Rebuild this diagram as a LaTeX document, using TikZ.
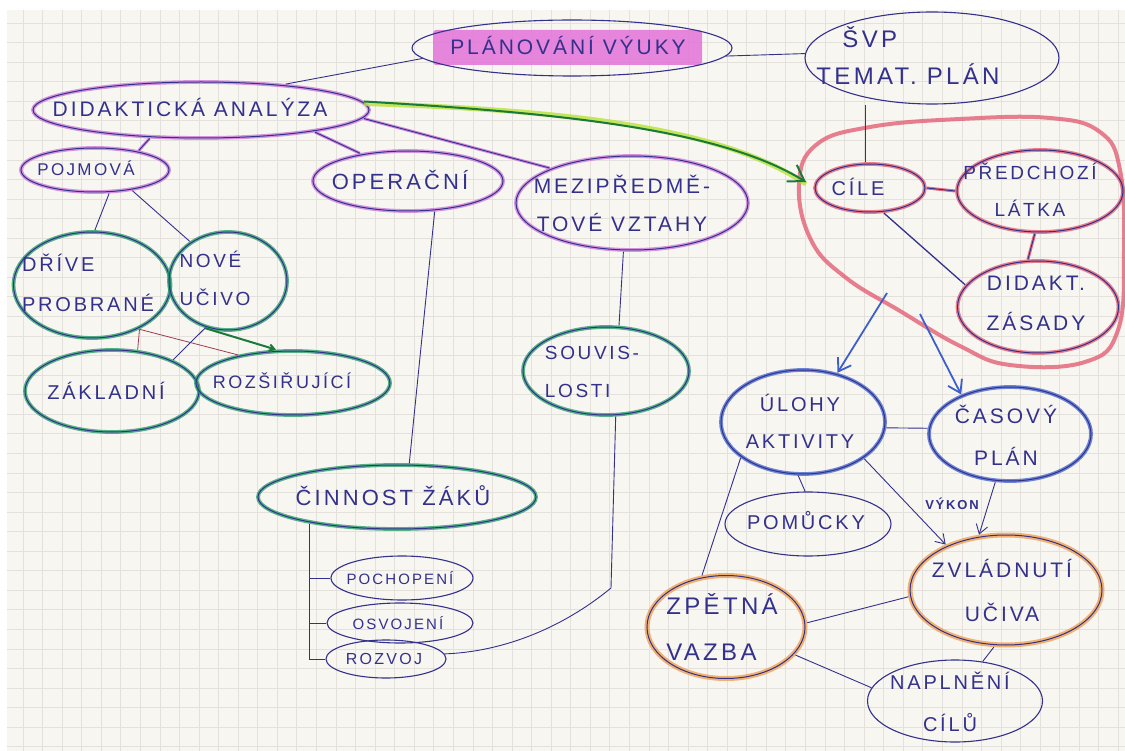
\documentclass[tikz,border=0pt]{standalone}
\usepackage{fontspec}
\newfontfamily\hand[LetterSpace=14]{Liberation Sans}
\usetikzlibrary{shapes.geometric,arrows.meta}
\definecolor{ink}{HTML}{33318C}
\definecolor{paper}{HTML}{F8F6F1}
\definecolor{gridc}{HTML}{E4E1DC}
\definecolor{purp}{HTML}{C874D8}
\definecolor{hilite}{HTML}{E272D8}
\definecolor{grn}{HTML}{1F9965}
\definecolor{dkgrn}{HTML}{1A7A3A}
\definecolor{ylgrn}{HTML}{B8E23A}
\definecolor{redc}{HTML}{E2566E}
\definecolor{bluc}{HTML}{3D5FCC}
\definecolor{orgc}{HTML}{EE9A48}
\begin{document}
\begin{tikzpicture}[x=1pt,y=-1pt,
  plain/.style={ellipse, draw=ink, line width=1.1pt, inner sep=0pt},
  hibub/.style={ellipse, draw=#1, line width=3.8pt, draw opacity=0.75, inner sep=0pt,
    postaction={draw=ink, line width=1pt, draw opacity=1}},
  txt/.style 2 args={text=ink, inner sep=0pt, align=center,
    font=\hand\fontsize{#1}{#2}\selectfont},
  con/.style={draw=ink, line width=0.9pt},
  pcon/.style={draw=purp, line width=3pt, draw opacity=0.85,
    postaction={draw=ink, line width=0.9pt, draw opacity=1}},
  rcon/.style={draw=redc!70!black, line width=0.8pt},
  rthick/.style={draw=redc, line width=3pt, draw opacity=0.85,
    postaction={draw=ink, line width=0.9pt, draw opacity=1}},
  barb/.style={-{Straight Barb[length=#1, width=1.3*#1]}},
  barrow/.style={draw=bluc, line width=1.8pt, barb=12pt},
  narrow/.style={con, barb=9pt}]
\useasboundingbox (0,0) rectangle (1125,751);
% sheet of squared paper
\fill[white] (0,0) rectangle (1125,751);
\fill[paper] (7,10) rectangle (1125,751);
\foreach \i in {0,...,56} \draw[gridc, line width=0.7pt] ({23+19.56*\i},10) -- ({23+19.56*\i},751);
\foreach \j in {0,...,37} \draw[gridc, line width=0.7pt] (7,{23+19.56*\j}) -- (1125,{23+19.56*\j});

% highlighter stroke behind the title
\fill[hilite, opacity=0.85, rounded corners=3pt] (433,30) rectangle (702,65);

% red loop around the goal cluster
\draw[redc, line width=4pt, opacity=0.75] plot[smooth cycle, tension=0.7] coordinates
  {(799,185) (816,145) (870,127) (960,119) (1050,118) (1100,132) (1120,170) (1124,250)
   (1118,330) (1085,362) (1010,365) (960,346) (900,311) (845,277) (811,240)};
\coordinate (b1) at (887,293);
\coordinate (b2) at (920,314);
\coordinate (gtip) at (806,182);
\coordinate (bend) at (611,588);

% bubbles
\node[plain, minimum width=320, minimum height=56] (plan) at (572,48) {};
\node[plain, minimum width=254, minimum height=92] (svp) at (932,58) {};
\node[hibub=purp, minimum width=336, minimum height=56] (didak) at (201,110) {};
\node[hibub=purp, minimum width=148, minimum height=44] (pojm) at (95,170) {};
\node[hibub=purp, minimum width=190, minimum height=60] (oper) at (408,181) {};
\node[hibub=purp, minimum width=232, minimum height=94] (mezi) at (632,203) {};
\node[hibub=redc, minimum width=110, minimum height=48] (cile) at (870,188) {};
\node[hibub=redc, minimum width=166, minimum height=82] (pred) at (1040,191) {};
\node[hibub=redc, minimum width=161, minimum height=92] (zas) at (1038,307) {};
\node[hibub=grn, minimum width=157, minimum height=106] (drive) at (92,285) {};
\node[hibub=grn, minimum width=118, minimum height=98] (nove) at (228,281) {};
\node[hibub=grn, minimum width=174, minimum height=82] (zakl) at (112,391) {};
\node[hibub=grn, minimum width=194, minimum height=64] (rozs) at (293,383) {};
\node[hibub=grn, minimum width=166, minimum height=88] (souv) at (606,371) {};
\node[hibub=bluc, minimum width=164, minimum height=104] (ulohy) at (803,422) {};
\node[hibub=bluc, minimum width=162, minimum height=94] (casov) at (1010,434) {};
\node[hibub=grn, minimum width=278, minimum height=64] (cinn) at (397,497) {};
\node[plain, minimum width=166, minimum height=64] (pomu) at (808,524) {};
\node[hibub=orgc, line width=5pt, minimum width=192, minimum height=110] (zvl) at (1006,590) {};
\node[hibub=orgc, line width=5pt, minimum width=158, minimum height=103] (zpet) at (726,627) {};
\node[plain, minimum width=175, minimum height=82] (napl) at (955,701) {};
\node[plain, minimum width=142, minimum height=44] (poch) at (402,578) {};
\node[plain, minimum width=146, minimum height=40] (osvo) at (400,623) {};
\node[plain, minimum width=120, minimum height=38] (rozv) at (386,659) {};

% connectors
\draw[con] (plan.184) -- (didak.17);
\draw[con] (plan.357) -- (svp.178);
\draw[con] (cile.100) -- (cile.100 |- svp.south);
\draw[pcon] (didak.209) -- (pojm.24);
\draw[pcon] (didak.349) -- (oper.150);
\draw[pcon] (didak.357) -- (mezi.157);
\draw[ylgrn, line width=5pt, opacity=0.8] ([yshift=-2pt]didak.3) .. controls (560,110) and (720,126) .. ([yshift=-2pt]gtip);
\draw[dkgrn, line width=2pt, barb=15pt] (didak.3) .. controls (560,113) and (720,129) .. (gtip);
\draw[con] (pojm.301) -- (drive.87);
\draw[con] (pojm.331) -- (nove.134);
\draw[rcon] (drive.317) -- (zakl.58);
\draw[rcon] (drive.317) -- (rozs.153);
\draw[con] (nove.244) -- (zakl.27);
\draw[dkgrn, line width=2pt, barb=5pt] (nove.244) -- (rozs.117);
\draw[con] (oper.311) -- (cinn.70);
\draw[con] (mezi.260) -- (souv.74);
\draw[con] (souv.282) -- (bend) .. controls (560,630) and (500,652) .. (rozv.5);
\draw[con] (cinn.197) |- (rozv.west);
\draw[con] (poch.west) -- (poch.west -| cinn.197);
\draw[con] (osvo.west) -- (osvo.west -| cinn.197);
\draw[rthick] (cile.east) -- (pred.west);
\draw[con, line width=1.3pt] (cile.299) -- (zas.163);
\draw[rthick] (pred.263) -- (zas.102);
\draw[barrow] (b1) -- (ulohy.55);
\draw[barrow] (b2) -- (casov.141);
\draw[con] (ulohy.356) -- (casov.176);
\draw[con] (ulohy.265) -- (pomu.95);
\draw[narrow] (ulohy.329) -- (zvl.143);
\draw[narrow] (casov.253) -- (zvl.116);
\draw[con] (ulohy.210) -- (zpet.115);
\draw[con] (zpet.3) -- (zvl.184);
\draw[con] (zpet.338) -- (napl.171);
\draw[con] (zvl.258) -- (napl.55);

% lettering
\node[txt={21}{34}] (plan-t) at (568,46) {PLÁNOVÁNÍ VÝUKY};
\node[txt={24}{37}, align=left] (svp-t) at (908,56) {\hspace*{26pt}ŠVP\\TEMAT. PLÁN};
\node[txt={21}{34}] (didak-t) at (190,108) {DIDAKTICKÁ ANALÝZA};
\node[txt={17}{30}] (pojm-t) at (86,168) {POJMOVÁ};
\node[txt={22}{34}] (oper-t) at (400,180) {OPERAČNÍ};
\node[txt={21}{38}] (mezi-t) at (622,203) {MEZIPŘEDMĚ-\\TOVÉ VZTAHY};
\node[txt={20}{32}] (cile-t) at (858,187) {CÍLE};
\node[txt={19}{37}] (pred-t) at (1030,190) {PŘEDCHOZÍ\\LÁTKA};
\node[txt={21}{40}] (zas-t) at (1036,303) {DIDAKT.\\ZÁSADY};
\node[txt={20}{40}, align=left] (drive-t) at (88,283) {DŘÍVE\\PROBRANÉ};
\node[txt={19}{38}, align=left] (nove-t) at (215,278) {NOVÉ\\UČIVO};
\node[txt={20}{32}] (zakl-t) at (106,391) {ZÁKLADNÍ};
\node[txt={18}{32}] (rozs-t) at (282,381) {ROZŠIŘUJÍCÍ};
\node[txt={19}{38}, align=left] (souv-t) at (592,372) {SOUVIS-\\LOSTI};
\node[txt={20}{37}] (ulohy-t) at (800,421) {ÚLOHY\\AKTIVITY};
\node[txt={21}{42}] (casov-t) at (1006,435) {ČASOVÝ\\PLÁN};
\node[txt={22}{34}] (cinn-t) at (393,496) {ČINNOST ŽÁKŮ};
\node[txt={20}{32}] (pomu-t) at (806,521) {POMŮCKY};
\node[txt={21}{44}] (zvl-t) at (1002,590) {ZVLÁDNUTÍ\\UČIVA};
\node[txt={24}{46}, align=left] (zpet-t) at (722,627) {ZPĚTNÁ\\VAZBA};
\node[txt={20}{42}] (napl-t) at (950,702) {NAPLNĚNÍ\\CÍLŮ};
\node[txt={15}{28}] (poch-t) at (400,578) {POCHOPENÍ};
\node[txt={15}{28}] (osvo-t) at (398,623) {OSVOJENÍ};
\node[txt={16}{28}] (rozv-t) at (384,659) {ROZVOJ};
\node[text=ink, inner sep=0pt, font=\hand\bfseries\fontsize{13}{16}\selectfont] (vykon) at (952,504) {VÝKON};
\end{tikzpicture}
\end{document}
